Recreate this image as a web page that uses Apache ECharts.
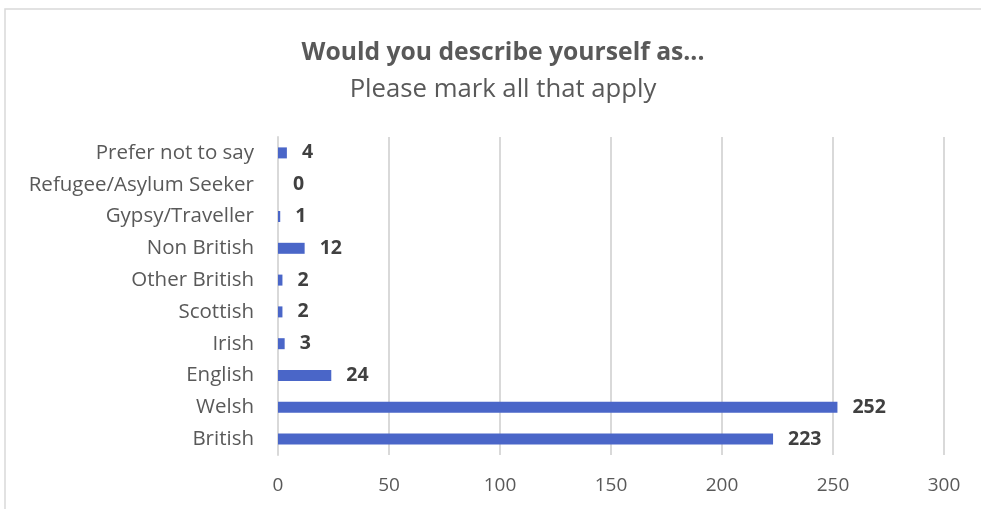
<!DOCTYPE html>
<html>
<head>
<meta charset="utf-8">
<script src="https://cdn.jsdelivr.net/npm/echarts@6/dist/echarts.min.js"></script>
<style>
html,body{margin:0;padding:0;background:#fff;}
#chart{width:981px;height:509px;}
</style>
</head>
<body>
<div id="chart"></div>
<script>
const categories = ["British","Welsh","English","Irish","Scottish","Other British","Non British","Gypsy/Traveller","Refugee/Asylum Seeker","Prefer not to say"];
const values = [223,252,24,3,2,2,12,1,0,4];
const xTicks = [0,50,100,150,200,250,300];
const titleText = "Would you describe yourself as...";
const subtitleText = "Please mark all that apply";

const FONT = "'Open Sans', sans-serif";
const chart = echarts.init(document.getElementById('chart'), null, {renderer:'canvas'});
chart.setOption({
  animation:false,
  backgroundColor:'#fff',
  graphic:[
    {type:'rect', shape:{x:5,y:9,width:1000,height:520}, style:{fill:'none', stroke:'#d9d9d9', lineWidth:1.5}, z:-1}
  ],
  title:{
    text:titleText,
    subtext:subtitleText,
    left:498, textAlign:'center', top:35,
    itemGap:12,
    textStyle:{fontFamily:FONT, fontSize:24.7, lineHeight:25, fontWeight:'bold', color:'#595959'},
    subtextStyle:{fontFamily:FONT, fontSize:25.7, lineHeight:26, color:'#595959'}
  },
  grid:{left:278, right:37, top:137, bottom:54, containLabel:false},
  xAxis:{
    type:'value', min:0, max:300, interval:50,
    axisLine:{show:false}, axisTick:{show:false},
    splitLine:{show:true, lineStyle:{color:'#d9d9d9', width:2}},
    axisLabel:{fontFamily:FONT, fontSize:19, color:'#595959', margin:21,
      formatter:function(v){return xTicks.indexOf(v)>=0? String(v):'';}}
  },
  yAxis:{
    type:'category', data:categories,
    axisLine:{show:true, lineStyle:{color:'#d9d9d9', width:2}},
    axisTick:{show:false},
    axisLabel:{fontFamily:FONT, fontSize:20.5, color:'#595959', margin:24}
  },
  series:[{
    type:'bar', data:values, barWidth:11,
    itemStyle:{color:'#4a66c8'},
    label:{show:true, position:'right', distance:15, fontFamily:FONT, fontSize:19.5, fontWeight:'bold', color:'#404040'}
  }]
});
</script>
</body>
</html>
